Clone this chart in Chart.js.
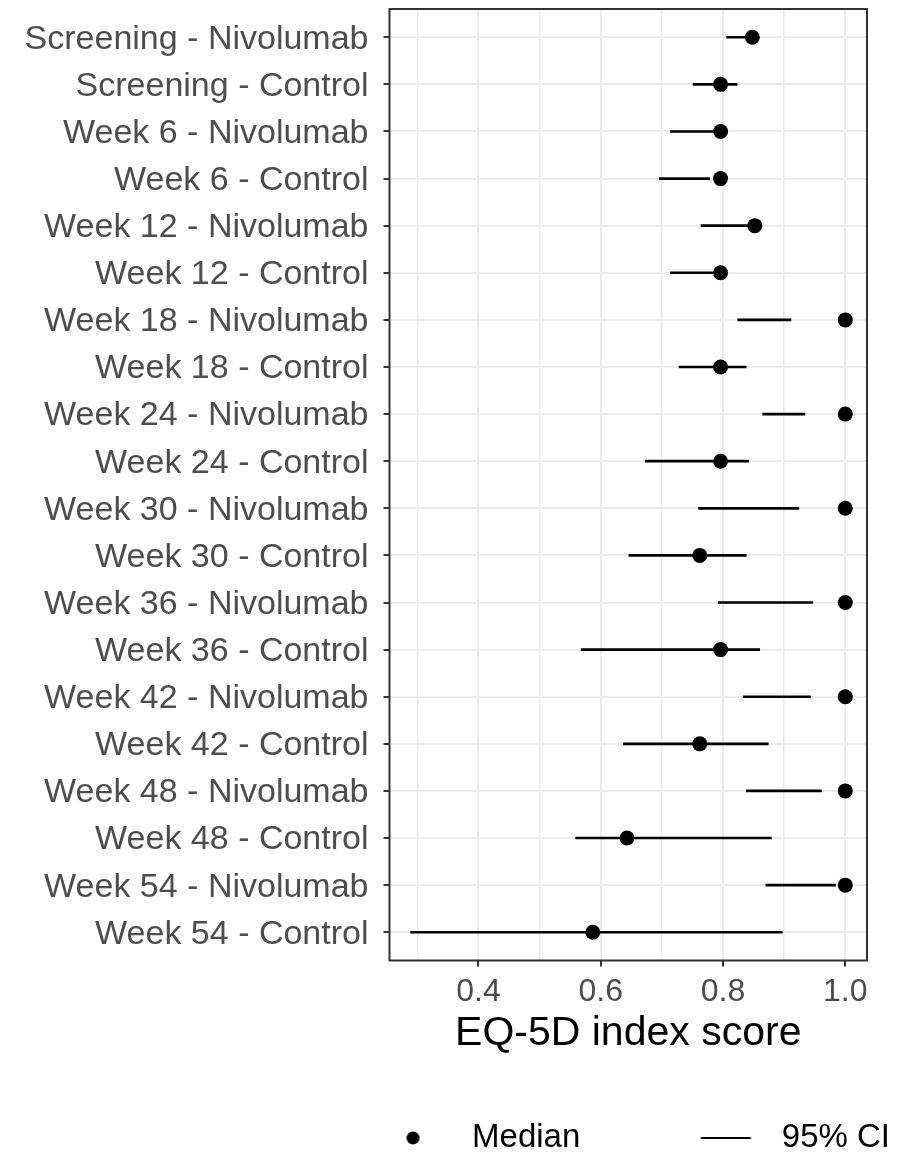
<!DOCTYPE html>
<html>
<head>
<meta charset="utf-8">
<script src="https://cdn.jsdelivr.net/npm/chart.js@4.4.1/dist/chart.umd.min.js"></script>
<style>
  html, body { margin:0; padding:0; background:#fff; }
  #wrap { width:912px; height:1152px; }
</style>
</head>
<body>
<div id="wrap"><canvas id="chart"></canvas></div>
<script>
const CATEGORIES = [
  'Screening - Nivolumab', 'Screening - Control',
  'Week 6 - Nivolumab', 'Week 6 - Control',
  'Week 12 - Nivolumab', 'Week 12 - Control',
  'Week 18 - Nivolumab', 'Week 18 - Control',
  'Week 24 - Nivolumab', 'Week 24 - Control',
  'Week 30 - Nivolumab', 'Week 30 - Control',
  'Week 36 - Nivolumab', 'Week 36 - Control',
  'Week 42 - Nivolumab', 'Week 42 - Control',
  'Week 48 - Nivolumab', 'Week 48 - Control',
  'Week 54 - Nivolumab', 'Week 54 - Control'
];
const MEDIANS = [0.848, 0.796, 0.796, 0.796, 0.852, 0.796, 1.0, 0.796, 1.0, 0.796,
                 1.0, 0.762, 1.0, 0.796, 1.0, 0.762, 1.0, 0.643, 1.0, 0.587];
const CI_LOW  = [0.806, 0.751, 0.714, 0.696, 0.764, 0.714, 0.824, 0.728, 0.865, 0.673,
                 0.760, 0.646, 0.792, 0.568, 0.833, 0.637, 0.838, 0.559, 0.870, 0.289];
const CI_HIGH = [0.848, 0.823, 0.796, 0.778, 0.852, 0.796, 0.911, 0.838, 0.934, 0.842,
                 0.924, 0.838, 0.947, 0.860, 0.943, 0.874, 0.961, 0.879, 0.984, 0.897];
const X_GRID = [0.3, 0.4, 0.5, 0.6, 0.7, 0.8, 0.9, 1.0];
const X_LABELS = [0.4, 0.6, 0.8, 1.0];
const X_RANGE = [0.2545, 1.0355];

const FONT = "'Liberation Sans', Arial, sans-serif";
const isMajor = v => X_LABELS.some(t => Math.abs(t - v) < 1e-9);

// legend icons (offset inside a wide box so the items sit where ggplot put them)
function legendIcon(kind){
  const c = document.createElement('canvas');
  c.width = 163; c.height = 20;
  const ctx = c.getContext('2d');
  ctx.fillStyle = '#000';
  ctx.strokeStyle = '#000';
  if(kind === 'dot'){
    ctx.beginPath(); ctx.arc(120.5, 10, 6.5, 0, Math.PI * 2); ctx.fill();
  } else {
    ctx.lineWidth = 2;
    ctx.beginPath(); ctx.moveTo(98.5, 10); ctx.lineTo(148.5, 10); ctx.stroke();
  }
  return c;
}

const panelBorder = {
  id: 'panelBorder',
  afterDatasetsDraw(chart){
    const {ctx, chartArea: a} = chart;
    ctx.save();
    ctx.strokeStyle = '#333333';
    ctx.lineWidth = 2;
    ctx.strokeRect(a.left, a.top, a.right - a.left, a.bottom - a.top);
    ctx.restore();
  }
};

window.addEventListener('DOMContentLoaded', () => {
  const dotIcon = legendIcon('dot');
  const lineIcon = legendIcon('line');

  new Chart(document.getElementById('chart'), {
    type: 'bar',
    data: {
      datasets: [
        {
          type: 'line',
          label: 'Median',
          data: MEDIANS.map((m, i) => ({x: m, y: i})),
          showLine: false,
          pointRadius: 7.5,
          pointBackgroundColor: '#000',
          pointBorderWidth: 0,
          order: 0
        },
        {
          type: 'bar',
          label: '95% CI',
          indexAxis: 'y',
          data: CI_LOW.map((lo, i) => ({x: [lo, CI_HIGH[i]], y: i})),
          backgroundColor: '#000',
          borderWidth: 0,
          barThickness: 2,
          order: 1
        }
      ]
    },
    options: {
      responsive: true,
      maintainAspectRatio: false,
      animation: false,
      layout: { padding: {top: 9, left: 0, right: 0, bottom: -12.5} },
      scales: {
        x: {
          type: 'linear',
          bounds: 'data',
          offset: false,
          min: X_RANGE[0],
          max: X_RANGE[1],
          afterBuildTicks: s => { s.ticks = X_GRID.map(v => ({value: v})); },
          afterFit: s => { s.height = 139; s.paddingLeft = 0; s.paddingRight = 45; },
          ticks: {
            autoSkip: false,
            maxRotation: 0,
            padding: 6,
            color: '#4D4D4D',
            font: {family: FONT, size: 32},
            callback: v => isMajor(v) ? v.toFixed(1) : ''
          },
          grid: {
            offset: false,
            color: '#EBEBEB',
            lineWidth: c => (c.tick && isMajor(c.tick.value)) ? 2 : 1.5,
            tickLength: 6,
            tickWidth: 2,
            tickColor: c => (c.tick && isMajor(c.tick.value)) ? '#333333' : 'rgba(0,0,0,0)'
          },
          border: { display: false },
          title: {
            display: true,
            text: 'EQ-5D index score',
            color: '#000',
            font: {family: FONT, size: 41},
            padding: {top: 0, bottom: 41}
          }
        },
        y: {
          type: 'linear',
          bounds: 'data',
          offset: false,
          reverse: true,
          min: -0.6,
          max: CATEGORIES.length - 0.4,
          afterBuildTicks: s => { s.ticks = CATEGORIES.map((_, i) => ({value: i})); },
          afterFit: s => { s.width = 389.5; s.paddingTop = 0; s.paddingBottom = 0; },
          ticks: {
            autoSkip: false,
            padding: 15,
            labelOffset: 2,
            color: '#4D4D4D',
            font: {family: FONT, size: 34},
            callback: v => CATEGORIES[v]
          },
          grid: {
            offset: false,
            color: '#EBEBEB',
            lineWidth: 2,
            tickLength: 6,
            tickWidth: 2,
            tickColor: '#333333'
          },
          border: { display: false }
        }
      },
      plugins: {
        tooltip: { enabled: false },
        legend: {
          position: 'bottom',
          align: 'end',
          labels: {
            usePointStyle: true,
            pointStyleWidth: 163,
            padding: 22,
            color: '#000',
            font: {family: FONT, size: 33},
            generateLabels: () => [
              {text: 'Median', pointStyle: dotIcon, fillStyle: '#000', strokeStyle: '#000', lineWidth: 0, hidden: false, datasetIndex: 0},
              {text: '95% CI', pointStyle: lineIcon, fillStyle: '#000', strokeStyle: '#000', lineWidth: 0, hidden: false, datasetIndex: 1}
            ]
          }
        }
      }
    },
    plugins: [panelBorder]
  });
});
</script>
</body>
</html>
